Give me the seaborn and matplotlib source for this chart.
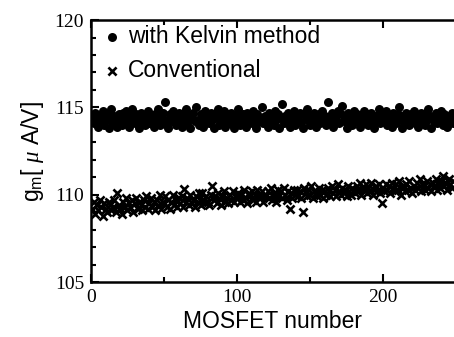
import numpy as np
import pandas as pd
import matplotlib
matplotlib.use("Agg")
import matplotlib.pyplot as plt
import seaborn as sns
from matplotlib.ticker import MultipleLocator

# g_m values, one per MOSFET (1..248)
kelvin = [
    114.4, 114.1, 114.7, 114.3, 113.9, 114.5, 114.2, 114.8, 114.0, 114.4, 114.6, 113.8, 114.3, 114.9, 114.1, 114.5, 114.2, 113.9, 114.6, 114.3,
    114.0, 114.7, 114.4, 114.8, 114.2, 113.9, 114.5, 114.9, 114.3, 114.1, 114.6, 114.4, 113.8, 114.7, 114.2, 114.5, 114.0, 114.3, 114.8, 114.1,
    114.5, 114.2, 113.9, 114.6, 114.3, 114.9, 114.0, 114.4, 114.7, 114.1, 115.3, 114.3, 113.8, 114.6, 114.2, 114.8, 114.4, 114.0, 114.5, 114.7,
    114.2, 113.9, 114.6, 114.3, 114.9, 114.1, 114.5, 113.8, 114.4, 114.7, 114.2, 115.0, 114.3, 114.0, 114.6, 114.4, 113.9, 114.8, 114.2, 114.5,
    114.1, 114.7, 114.3, 113.8, 114.6, 114.4, 114.9, 114.0, 114.5, 114.2, 114.8, 113.9, 114.3, 114.6, 114.1, 114.7, 114.4, 113.8, 114.5, 114.2,
    114.9, 114.0, 114.4, 114.6, 114.2, 113.9, 114.7, 114.3, 114.5, 114.1, 114.8, 114.3, 113.8, 114.6, 114.2, 114.4, 115.0, 114.1, 114.5, 114.3,
    113.9, 114.7, 114.2, 114.5, 114.0, 114.8, 114.3, 114.6, 113.8, 114.4, 115.2, 114.1, 114.5, 114.3, 114.7, 113.9, 114.4, 114.2, 114.8, 114.0,
    114.5, 114.3, 114.7, 114.1, 113.8, 114.6, 114.4, 114.9, 114.2, 114.0, 114.5, 114.3, 114.7, 113.9, 114.4, 114.6, 114.1, 114.8, 114.3, 114.5,
    114.0, 115.3, 114.4, 114.2, 114.7, 113.9, 114.5, 114.3, 114.8, 114.1, 114.6, 115.1, 114.2, 114.4, 113.8, 114.7, 114.3, 114.5, 114.0, 114.8,
    114.2, 114.6, 114.4, 113.9, 114.5, 114.1, 114.8, 114.3, 114.6, 114.0, 114.4, 114.7, 114.2, 113.8, 114.5, 114.3, 114.9, 114.1, 114.4, 114.6,
    114.2, 114.8, 114.0, 114.5, 114.3, 113.9, 114.7, 114.4, 114.1, 114.6, 115.0, 114.3, 113.8, 114.5, 114.2, 114.7, 114.4, 114.0, 114.6, 114.3,
    114.8, 114.1, 114.5, 113.9, 114.4, 114.7, 114.2, 114.6, 114.0, 114.3, 114.9, 114.5, 113.8, 114.4, 114.2, 114.7, 114.1, 114.5, 114.3, 114.8,
    114.0, 114.6, 114.2, 113.9, 114.5, 114.3, 114.7, 114.1,
]

conventional = [
    109.2, 109.6, 108.9, 109.4, 109.1, 109.7, 109.3, 108.8, 109.5, 109.2, 109.0, 109.6, 109.4, 109.1, 109.3, 109.7, 109.0, 110.1, 109.4, 109.2,
    108.9, 109.6, 109.3, 109.8, 109.1, 109.5, 109.3, 109.7, 109.0, 109.5, 109.8, 109.2, 109.6, 109.4, 109.1, 109.7, 109.3, 109.9, 109.2, 109.5,
    109.8, 109.3, 109.6, 109.1, 109.7, 109.4, 110.0, 109.2, 109.6, 109.5, 109.9, 109.3, 109.7, 109.2, 109.6, 110.0, 109.4, 109.7, 109.3, 109.8,
    109.5, 109.9, 109.3, 110.35, 109.6, 109.8, 109.4, 110.0, 109.5, 109.7, 109.3, 109.9, 109.6, 110.1, 109.4, 110.1, 109.7, 109.5, 109.9, 109.6,
    109.4, 110.0, 110.5, 109.7, 109.9, 109.5, 110.1, 109.8, 109.4, 109.9, 110.2, 109.6, 109.8, 109.5, 110.0, 109.7, 110.2, 109.6, 109.9, 109.8,
    110.1, 109.6, 110.0, 109.7, 110.3, 109.8, 109.5, 110.1, 109.9, 110.2, 109.7, 110.0, 109.6, 110.3, 109.9, 109.8, 110.2, 109.6, 110.0, 109.9,
    110.2, 109.8, 110.4, 109.7, 110.1, 110.0, 109.6, 110.3, 109.9, 110.2, 109.8, 110.4, 110.0, 109.7, 110.2, 109.2, 110.1, 109.8, 110.3, 110.0,
    110.3, 109.9, 110.2, 109.8, 109.0, 110.4, 110.1, 109.9, 110.3, 110.0, 110.5, 109.8, 110.2, 110.1, 109.9, 110.4, 110.0, 110.3, 109.8, 110.2,
    110.0, 110.4, 110.2, 109.9, 110.5, 110.1, 110.3, 109.9, 110.6, 110.2, 110.0, 110.4, 110.1, 110.3, 109.9, 110.5, 110.2, 110.0, 110.4, 110.3,
    110.1, 110.5, 110.2, 110.7, 110.0, 110.4, 110.3, 110.6, 110.1, 110.4, 110.2, 110.7, 110.0, 110.3, 110.5, 110.2, 110.6, 110.1, 109.5, 110.4,
    110.2, 110.6, 110.3, 110.5, 110.1, 110.7, 110.4, 110.2, 110.6, 110.3, 110.8, 110.0, 110.5, 110.4, 110.2, 110.6, 110.3, 110.8, 110.4, 110.1,
    110.5, 110.3, 110.7, 110.4, 110.9, 110.2, 110.6, 110.5, 110.3, 110.8, 110.4, 110.6, 110.2, 110.7, 110.5, 110.9, 110.3, 110.6, 110.4, 110.8,
    111.1, 110.5, 110.7, 110.3, 110.9, 110.6, 110.4, 110.8,
]

mosfet = list(range(1, len(kelvin) + 1))

sns.set_style("ticks")
plt.rcParams["font.family"] = ["Liberation Sans", "DejaVu Sans"]
plt.rcParams["mathtext.fontset"] = "custom"
plt.rcParams["mathtext.rm"] = "Liberation Sans"
plt.rcParams["mathtext.it"] = "Liberation Serif:italic"
plt.rcParams["text.color"] = "black"
plt.rcParams["axes.labelcolor"] = "black"
plt.rcParams["xtick.color"] = "black"
plt.rcParams["ytick.color"] = "black"
plt.rcParams["axes.edgecolor"] = "black"

df_k = pd.DataFrame({"MOSFET": mosfet, "gm": kelvin})
df_c = pd.DataFrame({"MOSFET": mosfet, "gm": conventional})

fig = plt.figure(figsize=(4.54, 3.37), dpi=100)
ax = fig.add_axes([0.2004, 0.163, 0.7996, 0.7774])

sns.scatterplot(data=df_k, x="MOSFET", y="gm", marker="o", s=42, color="black",
                edgecolor="black", linewidth=0, ax=ax, label="with Kelvin method")
sns.scatterplot(data=df_c, x="MOSFET", y="gm", marker="x", s=34, color="black",
                linewidth=1.9, ax=ax, label="Conventional")

ax.set_xlim(0, 248.6)
ax.set_ylim(105, 120)
ax.xaxis.set_major_locator(MultipleLocator(100))
ax.xaxis.set_minor_locator(MultipleLocator(50))
ax.yaxis.set_major_locator(MultipleLocator(5))
ax.yaxis.set_minor_locator(MultipleLocator(1))
ax.tick_params(which="both", direction="in", top=True, right=False, width=1.5)
ax.tick_params(which="major", length=6, labelsize=14, pad=5)
ax.tick_params(which="minor", length=3.5)
for lab in ax.get_xticklabels() + ax.get_yticklabels():
    lab.set_family("Liberation Serif")
for side in ["left", "bottom", "top"]:
    ax.spines[side].set_linewidth(1.8)
ax.spines["right"].set_visible(False)

ax.set_xlabel("MOSFET number", fontsize=16.5, labelpad=3)
ax.set_ylabel(r"g$_{\rm m}$[ $\mu$ A/V]", fontsize=16.5, labelpad=6)

leg = ax.legend(loc="upper left", frameon=False, fontsize=16.5, handletextpad=0.2,
                borderaxespad=0.0, labelspacing=0.45, handlelength=1.0,
                bbox_to_anchor=(0.0, 1.015))

fig.savefig("out.png", dpi=100)
